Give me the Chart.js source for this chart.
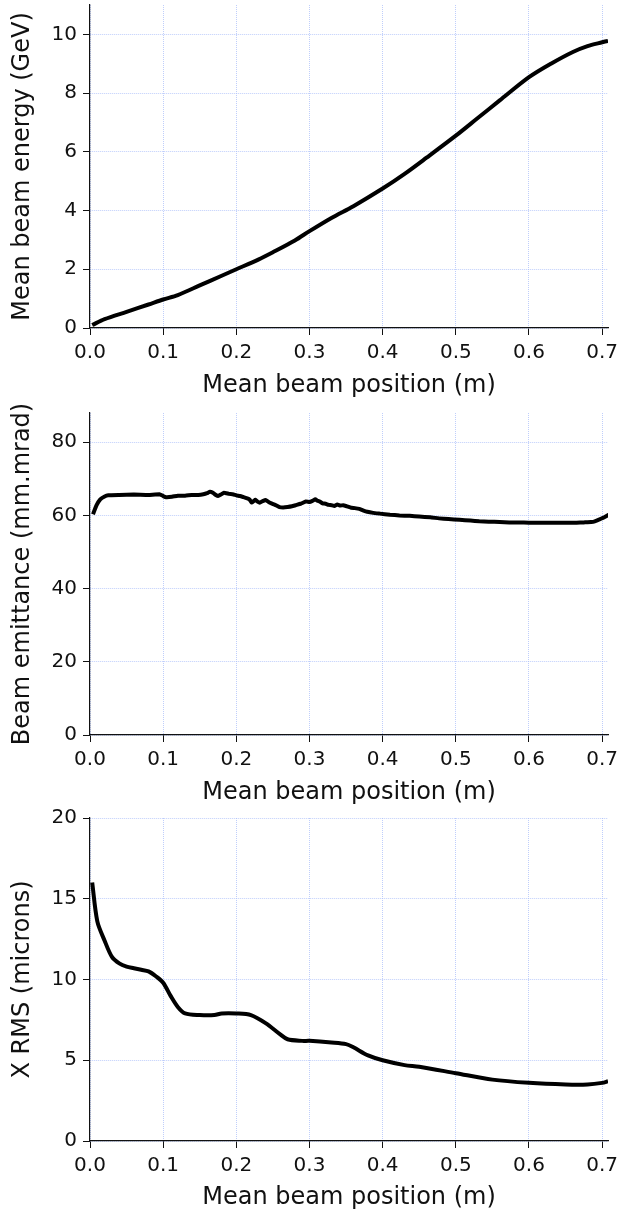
<!DOCTYPE html>
<html>
<head>
<meta charset="utf-8">
<script src="https://cdn.jsdelivr.net/npm/chart.js"></script>
<style>
  body { margin: 0; background: #fff; }
  #wrap { position: relative; width: 625px; height: 1217px; overflow: hidden; }
  canvas { position: absolute; left: 0; }
</style>
</head>
<body>
<div id="wrap">
  <canvas id="c1" width="625" height="423" style="top:-13px"></canvas>
  <canvas id="c2" width="625" height="422" style="top:395px"></canvas>
  <canvas id="c3" width="625" height="419" style="top:800px"></canvas>
</div>
<script>
// energie moyenne du faisceau
const posEnergy = [0.003, 0.02, 0.05, 0.08, 0.1, 0.12, 0.15, 0.18, 0.2, 0.23, 0.25, 0.28, 0.3, 0.33, 0.36, 0.4, 0.43, 0.46, 0.5, 0.53, 0.56, 0.6, 0.63, 0.66, 0.68, 0.7, 0.708];
const energy = [0.1, 0.3, 0.55, 0.8, 0.97, 1.12, 1.45, 1.78, 2.0, 2.33, 2.58, 2.98, 3.3, 3.75, 4.15, 4.75, 5.25, 5.8, 6.55, 7.15, 7.75, 8.54, 9.0, 9.4, 9.6, 9.73, 9.78];

// emittance
const posEmit = [0.004, 0.009, 0.014, 0.02, 0.025, 0.04, 0.06, 0.08, 0.095, 0.1, 0.104, 0.112, 0.12, 0.13, 0.139, 0.148, 0.155, 0.16, 0.164, 0.168, 0.172, 0.175, 0.179, 0.183, 0.19, 0.195, 0.2, 0.205, 0.21, 0.215, 0.218, 0.221, 0.224, 0.226, 0.229, 0.232, 0.236, 0.24, 0.244, 0.248, 0.253, 0.259, 0.264, 0.27, 0.276, 0.281, 0.288, 0.295, 0.3, 0.304, 0.308, 0.311, 0.314, 0.318, 0.322, 0.326, 0.33, 0.334, 0.338, 0.342, 0.346, 0.351, 0.357, 0.362, 0.368, 0.373, 0.379, 0.387, 0.396, 0.41, 0.423, 0.437, 0.45, 0.465, 0.477, 0.49, 0.505, 0.52, 0.532, 0.545, 0.56, 0.573, 0.586, 0.6, 0.615, 0.63, 0.641, 0.655, 0.665, 0.675, 0.685, 0.69, 0.696, 0.703, 0.71];
const emittance = [60.3, 62.8, 64.4, 65.2, 65.5, 65.6, 65.7, 65.6, 65.8, 65.3, 65.0, 65.1, 65.4, 65.4, 65.6, 65.6, 65.8, 66.1, 66.5, 66.2, 65.6, 65.3, 65.7, 66.2, 65.9, 65.8, 65.5, 65.3, 65.0, 64.7, 64.4, 63.5, 64.0, 64.3, 63.8, 63.5, 63.9, 64.2, 63.7, 63.3, 62.9, 62.3, 62.2, 62.3, 62.5, 62.8, 63.2, 63.8, 63.7, 64.0, 64.4, 64.0, 63.8, 63.3, 63.2, 62.9, 62.8, 62.6, 63.0, 62.7, 62.8, 62.5, 62.1, 62.0, 61.8, 61.4, 61.0, 60.7, 60.5, 60.2, 60.0, 59.9, 59.7, 59.5, 59.2, 59.0, 58.8, 58.6, 58.4, 58.3, 58.2, 58.1, 58.1, 58.0, 58.0, 58.0, 58.0, 58.0, 58.0, 58.1, 58.2, 58.4, 58.9, 59.5, 60.3];

// X RMS
const posRms = [0.003, 0.01, 0.02, 0.03, 0.04, 0.05, 0.06, 0.07, 0.08, 0.09, 0.1, 0.11, 0.12, 0.13, 0.15, 0.17, 0.18, 0.2, 0.22, 0.24, 0.26, 0.27, 0.29, 0.3, 0.33, 0.35, 0.36, 0.38, 0.4, 0.43, 0.45, 0.5, 0.55, 0.6, 0.65, 0.68, 0.7, 0.708];
const xRms = [16.0, 13.6, 12.4, 11.4, 11.0, 10.8, 10.7, 10.6, 10.5, 10.2, 9.8, 9.0, 8.3, 7.9, 7.8, 7.8, 7.9, 7.9, 7.8, 7.3, 6.6, 6.3, 6.2, 6.2, 6.1, 6.0, 5.8, 5.3, 5.0, 4.7, 4.6, 4.2, 3.8, 3.6, 3.5, 3.5, 3.6, 3.7];

const xTitle = "Mean beam position (m)";
const gridCol = "rgba(170,190,250,0.75)";

function makeChart(id, xs, ys, yMax, yStep, yTitle, area, titlePad, tension) {
    const pts = xs.map((x, i) => ({ x: x, y: ys[i] }));
    const cv = document.getElementById(id);
    return new Chart(cv, {
        type: 'line',
        data: {
            datasets: [{
                data: pts,
                borderColor: '#000',
                borderWidth: 4,
                pointRadius: 0,
                tension: tension,
                fill: false
            }]
        },
        options: {
            responsive: false,
            animation: false,
            layout: { padding: { top: area.top, right: 17, left: 0, bottom: 0 } },
            plugins: { legend: { display: false }, tooltip: { enabled: false } },
            scales: {
                x: {
                    type: 'linear',
                    min: 0, max: 0.708,
                    ticks: {
                        stepSize: 0.1, includeBounds: false, padding: 6,
                        color: '#111', font: { family: 'DejaVu Sans', size: 20 },
                        callback: v => v.toFixed(1)
                    },
                    grid: { color: gridCol, tickColor: '#111', tickLength: 7, lineWidth: 1 },
                    border: { color: '#111', width: 1.2, dash: [1, 1] },
                    title: { display: true, text: xTitle, color: '#111', font: { family: 'DejaVu Sans', size: 24 }, padding: { top: 0, bottom: titlePad } },
                    afterFit: s => { s.height = area.xh; }
                },
                y: {
                    min: 0, max: yMax,
                    ticks: {
                        stepSize: yStep, includeBounds: false, padding: 6,
                        color: '#111', font: { family: 'DejaVu Sans', size: 20 }
                    },
                    grid: { color: gridCol, tickColor: '#111', tickLength: 7, lineWidth: 1 },
                    border: { color: '#111', width: 1.2, dash: [1, 1] },
                    title: { display: true, text: yTitle, color: '#111', font: { family: 'DejaVu Sans', size: 24 }, padding: { top: 8, bottom: 0 } },
                    afterFit: s => { s.width = 90; }
                }
            }
        }
    });
}

makeChart('c1', posEnergy, energy, 11, 2, "Mean beam energy (GeV)", { top: 18, xh: 82 }, 10, 0.3);
makeChart('c2', posEmit, emittance, 88, 20, "Beam emittance (mm.mrad)", { top: 17, xh: 82 }, 10, 0.1);
makeChart('c3', posRms, xRms, 20, 5, "X RMS (microns)", { top: 18, xh: 78 }, 7, 0.3);
</script>
</body>
</html>
